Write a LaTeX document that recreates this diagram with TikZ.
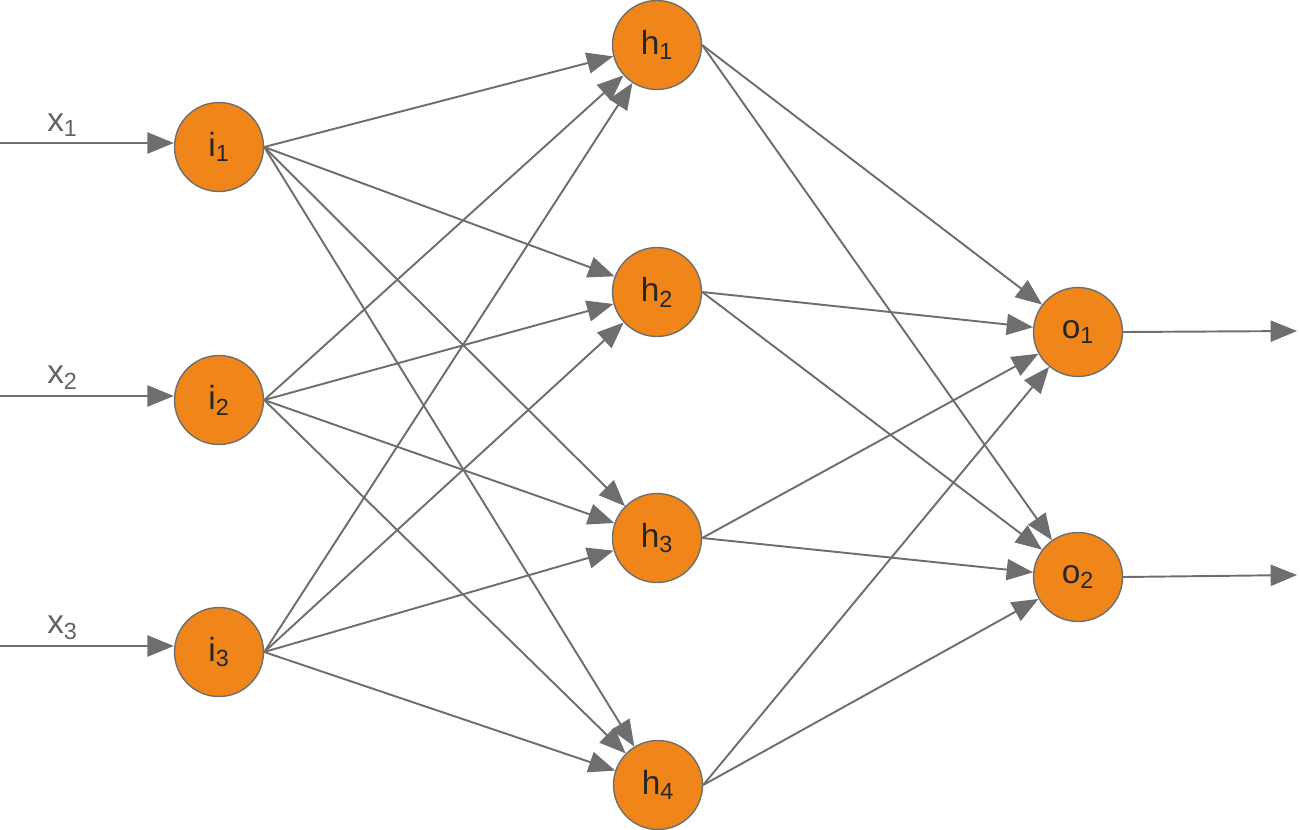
\documentclass[tikz,border=0pt]{standalone}
\usepackage{fontspec}
\setmainfont{Liberation Sans}
\usetikzlibrary{arrows.meta}
\definecolor{nfill}{HTML}{F0861A}
\definecolor{nline}{HTML}{6E6E6E}
\tikzset{
    neuron/.style = {circle,
                    fill=nfill,
                    draw=nline,
                    text=black!85,
                    thick,
                    inner sep=0pt,
                    minimum size=1.78cm,
                    font=\fontsize{19}{22}\selectfont},
    lbl/.style =    {text=nline!90!black,
                    inner sep=3pt,
                    font=\fontsize{19}{22}\selectfont},
    link/.style =   {draw=nline,
                    color=nline,
                    line width=1.1pt,
                    -{Triangle[length=15pt,width=12pt]}},
    wire/.style =   {every edge/.style=link}}

\begin{document}
\begin{tikzpicture}[x=0.02cm,y=-0.02cm]
                \useasboundingbox (0,0) rectangle (1300,829);
                % input layer
                \node[neuron]       (i1) at (219,147)  {i\textsubscript{1}};
                \node[neuron]       (i2) at (219,400)  {i\textsubscript{2}};
                \node[neuron]       (i3) at (219,652)  {i\textsubscript{3}};
                % hidden layer
                \node[neuron]       (h1) at (657,45)   {h\textsubscript{1}};
                \node[neuron]       (h2) at (657,292)  {h\textsubscript{2}};
                \node[neuron]       (h3) at (657,538)  {h\textsubscript{3}};
                \node[neuron]       (h4) at (658,785)  {h\textsubscript{4}};
                % output layer
                \node[neuron]       (o1) at (1078,332) {o\textsubscript{1}};
                \node[neuron]       (o2) at (1078,577) {o\textsubscript{2}};
                % free ends
                \coordinate         (x1) at (0,143);
                \coordinate         (x2) at (0,396);
                \coordinate         (x3) at (0,646);
                \coordinate         (y1) at (1297,331);
                \coordinate         (y2) at (1297,575);

                \path [wire]    (x1) edge node [lbl,above,pos=0.36] {x\textsubscript{1}} (x1 -| i1.west)
                                (x2) edge node [lbl,above,pos=0.36] {x\textsubscript{2}} (x2 -| i2.west)
                                (x3) edge node [lbl,above,pos=0.36] {x\textsubscript{3}} (x3 -| i3.west);
                \path [wire]    (i1.east) edge (h1) edge (h2) edge (h3) edge (h4)
                                (i2.east) edge (h1) edge (h2) edge (h3) edge (h4)
                                (i3.east) edge (h1) edge (h2) edge (h3) edge (h4);
                \path [wire]    (h1.east) edge (o1) edge (o2)
                                (h2.east) edge (o1) edge (o2)
                                (h3.east) edge (o1) edge (o2)
                                (h4.east) edge (o1) edge (o2);
                \path [wire]    (o1.east) edge (y1)
                                (o2.east) edge (y2);
        \end{tikzpicture}
\end{document}
